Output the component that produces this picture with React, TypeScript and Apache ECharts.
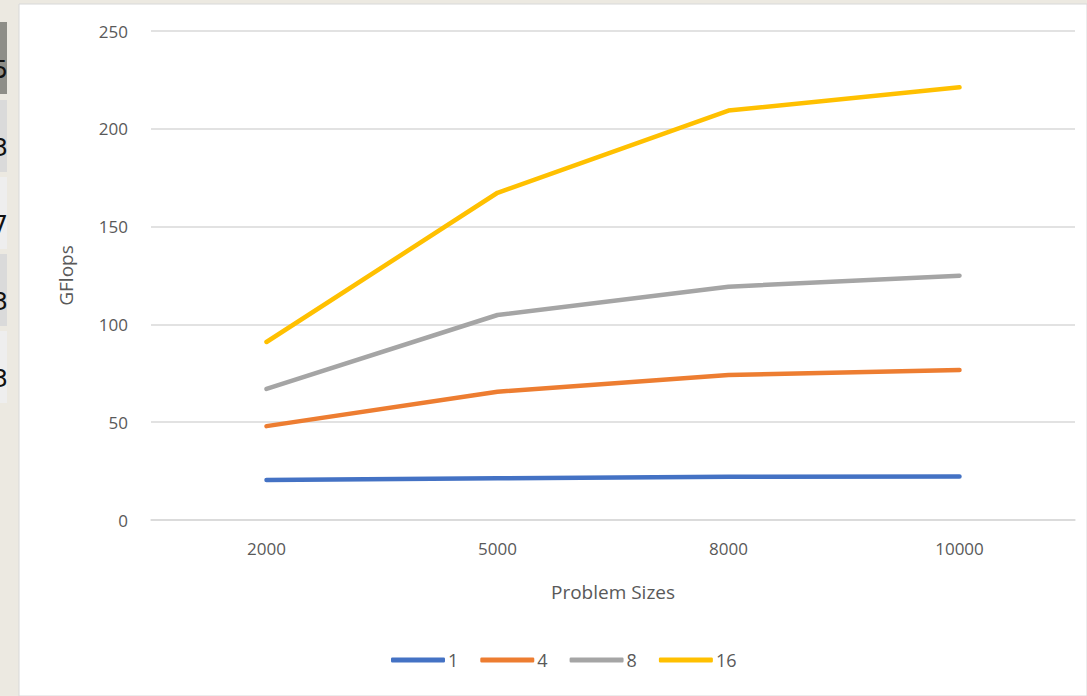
import React, { useEffect, useRef } from "react";
import * as echarts from "echarts";

const categories = ["2000", "5000", "8000", "10000"];
const seriesNames = ["1", "4", "8", "16"];
const values1 = [20.5, 21.3, 22.1, 22.3];
const values4 = [48, 65.6, 74.1, 76.7];
const values8 = [67, 104.8, 119.3, 124.9];
const values16 = [91, 167.3, 209.3, 221.2];
const colors = ["#4472C4", "#ED7D31", "#A5A5A5", "#FFC000"];
const sideCellDigits = ["5", "3", "7", "3", "3"];

export default function App() {
  const ref = useRef<HTMLDivElement>(null);
  useEffect(() => {
    if (!ref.current) return;
    const chart = echarts.init(ref.current, null, { renderer: "svg" });
    const font = "Open Sans";
    const allValues = [values1, values4, values8, values16];
    const cellTops = [22, 100, 177, 254, 331];
    const cellGraphics: any[] = [];
    cellTops.forEach((t, i) => {
      cellGraphics.push({
        type: "rect",
        shape: { x: 0, y: t, width: 7, height: 72 },
        style: { fill: i === 0 ? "#8E8E88" : i % 2 === 1 ? "#DADADA" : "#EEEEEE" },
        silent: true,
      });
      cellGraphics.push({
        type: "text",
        x: 8,
        y: t + 60,
        style: {
          text: sideCellDigits[i],
          font: "24px 'DejaVu Sans'",
          fill: "#111",
          align: "right",
          verticalAlign: "bottom",
        },
        silent: true,
      });
    });
    chart.setOption({
      animation: false,
      backgroundColor: "#ECE9E1",
      color: colors,
      graphic: [
        {
          type: "rect",
          z: -10,
          shape: { x: 19, y: 4, width: 1068, height: 692 },
          style: { fill: "#ffffff", stroke: "#D8D8D8", lineWidth: 1 },
          silent: true,
        },
        ...cellGraphics,
      ],
      grid: { left: 151, right: 12, top: 31, bottom: 176, containLabel: false },
      legend: {
        bottom: 22,
        left: 386,
        icon: "roundRect",
        itemWidth: 54,
        itemHeight: 5,
        itemGap: 22,
        textStyle: { color: "#595959", fontSize: 18, fontFamily: font, padding: [0, 0, 0, -2] },
        data: seriesNames,
      },
      xAxis: {
        type: "category",
        data: categories,
        boundaryGap: true,
        name: "Problem Sizes",
        nameLocation: "middle",
        nameGap: 62,
        nameTextStyle: { color: "#595959", fontSize: 19, fontFamily: font },
        axisLine: { lineStyle: { color: "#D9D9D9", width: 1.5 } },
        axisTick: { show: false },
        axisLabel: { color: "#595959", fontSize: 17, fontFamily: font, margin: 20 },
      },
      yAxis: {
        type: "value",
        min: 0,
        max: 250,
        interval: 50,
        name: "GFlops",
        nameLocation: "middle",
        nameRotate: 90,
        nameGap: 76,
        nameTextStyle: { color: "#595959", fontSize: 19, fontFamily: font },
        axisLine: { show: false },
        axisTick: { show: false },
        axisLabel: { color: "#595959", fontSize: 17, fontFamily: font, margin: 23 },
        splitLine: { lineStyle: { color: "#D9D9D9", width: 1.5 } },
      },
      series: seriesNames.map((n, i) => ({
        name: n,
        type: "line",
        data: allValues[i],
        symbol: "none",
        lineStyle: { width: 4.5, color: colors[i], cap: "round", join: "round" },
        itemStyle: { color: colors[i] },
      })),
    });
    return () => chart.dispose();
  }, []);
  return (
    <div
      ref={ref}
      style={{ position: "absolute", left: 0, top: 0, width: 1087, height: 696 }}
    />
  );
}
